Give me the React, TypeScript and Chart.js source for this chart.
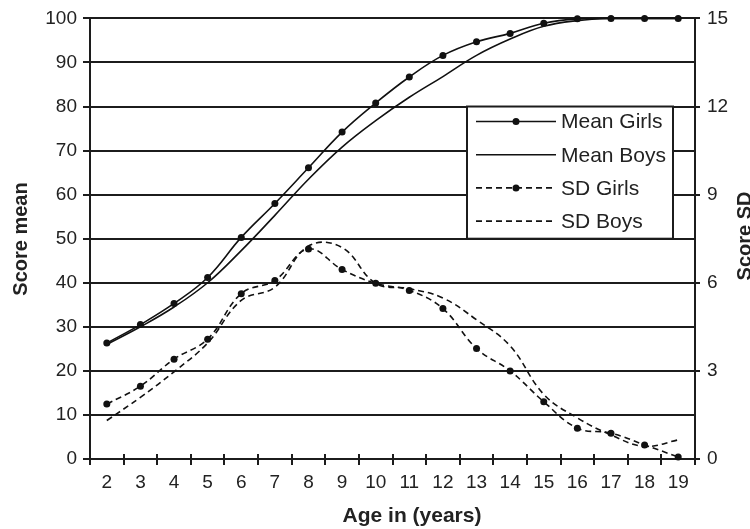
import React, { useEffect, useRef } from "react";
import { Chart, registerables } from "chart.js";

Chart.register(...registerables);

const AGES = ["2", "3", "4", "5", "6", "7", "8", "9", "10", "11", "12", "13", "14", "15", "16", "17", "18", "19"];
const MEAN_GIRLS = [26.3, 30.5, 35.3, 41.2, 50.3, 58.0, 66.1, 74.2, 80.8, 86.7, 91.6, 94.7, 96.6, 98.9, 99.9, 100, 100, 100];
const MEAN_BOYS = [26.0, 30.0, 34.5, 40.0, 47.3, 55.3, 63.5, 70.8, 76.8, 82.1, 86.8, 91.6, 95.3, 98.2, 99.5, 100, 100, 100];
const SD_GIRLS = [1.87, 2.48, 3.4, 4.08, 5.63, 6.08, 7.15, 6.45, 5.98, 5.74, 5.12, 3.76, 3.0, 1.95, 1.05, 0.88, 0.48, 0.07];
const SD_BOYS = [1.31, 2.1, 2.97, 3.95, 5.4, 5.85, 7.25, 7.2, 5.98, 5.8, 5.48, 4.74, 3.85, 2.2, 1.4, 0.82, 0.43, 0.65];
const MEAN_TICKS = { min: 0, max: 100, step: 10 };
const SD_TICKS = { min: 0, max: 15, step: 3 };
const LABELS = {
  meanGirls: "Mean Girls",
  meanBoys: "Mean Boys",
  sdGirls: "SD Girls",
  sdBoys: "SD Boys",
  x: "Age in (years)",
  y: "Score mean",
  y1: "Score SD",
};

const FONT = "'Liberation Sans', Arial, Helvetica, sans-serif";
const AXIS = "#1c1c1c";
const LINE = "#111111";
const TEXT = "#222222";
const DASH = [6, 4];

const overlay = {
  id: "overlay",
  afterDraw(chart: any) {
    const { ctx, chartArea, scales } = chart;
    const x = scales.x;
    const y = scales.y;
    ctx.save();

    // cross part of x ticks (above the axis)
    ctx.strokeStyle = AXIS;
    ctx.lineWidth = 2;
    for (let i = 1; i < AGES.length; i++) {
      const px = Math.round((x.getPixelForTick(i - 1) + x.getPixelForTick(i)) / 2);
      ctx.beginPath();
      ctx.moveTo(px, chartArea.bottom - 5);
      ctx.lineTo(px, chartArea.bottom);
      ctx.stroke();
    }

    // axis titles
    ctx.fillStyle = TEXT;
    ctx.textBaseline = "alphabetic";
    ctx.textAlign = "center";
    ctx.font = `bold 21px ${FONT}`;
    ctx.fillText(LABELS.x, 412, 522);

    ctx.font = `bold 20px ${FONT}`;
    ctx.save();
    ctx.translate(26.5, 239);
    ctx.rotate(-Math.PI / 2);
    ctx.fillText(LABELS.y, 0, 0);
    ctx.restore();

    ctx.save();
    ctx.translate(751, 236);
    ctx.rotate(-Math.PI / 2);
    ctx.fillText(LABELS.y1, 0, 0);
    ctx.restore();

    // legend box
    const top = y.getPixelForValue(80);
    const bottom = y.getPixelForValue(50);
    const right = chartArea.right - 22;
    const left = right - 206;
    ctx.fillStyle = "#ffffff";
    ctx.fillRect(left, top, right - left, bottom - top);
    ctx.strokeStyle = AXIS;
    ctx.lineWidth = 2;
    ctx.strokeRect(left, top, right - left, bottom - top);

    chart.data.datasets.forEach((ds: any, i: number) => {
      const ry = top + 15 + i * 33.2;
      ctx.save();
      ctx.strokeStyle = LINE;
      ctx.lineWidth = 1.6;
      ctx.setLineDash(ds.borderDash || []);
      ctx.beginPath();
      ctx.moveTo(left + 9, ry);
      ctx.lineTo(left + 89, ry);
      ctx.stroke();
      ctx.restore();
      if (ds.pointRadius > 0) {
        ctx.fillStyle = LINE;
        ctx.beginPath();
        ctx.arc(left + 49, ry, ds.pointRadius, 0, Math.PI * 2);
        ctx.fill();
      }
      ctx.fillStyle = TEXT;
      ctx.font = `21px ${FONT}`;
      ctx.textAlign = "left";
      ctx.textBaseline = "middle";
      ctx.fillText(ds.label, left + 94, ry + 1);
    });

    ctx.restore();
  },
};

export default function App() {
  const ref = useRef<HTMLCanvasElement | null>(null);

  useEffect(() => {
    if (!ref.current) return;
    const tickFont = { family: FONT, size: 19 };
    const common = {
      borderColor: LINE,
      backgroundColor: LINE,
      pointBackgroundColor: LINE,
      pointBorderWidth: 0,
      borderWidth: 1.6,
      tension: 0.4,
      fill: false,
      clip: 8,
    };
    const chart = new Chart(ref.current, {
      type: "line",
      data: {
        labels: AGES,
        datasets: [
          { ...common, label: LABELS.meanGirls, data: MEAN_GIRLS, yAxisID: "y", pointRadius: 3.5 },
          { ...common, label: LABELS.meanBoys, data: MEAN_BOYS, yAxisID: "y", pointRadius: 0 },
          { ...common, label: LABELS.sdGirls, data: SD_GIRLS, yAxisID: "y1", pointRadius: 3.5, borderDash: DASH },
          { ...common, label: LABELS.sdBoys, data: SD_BOYS, yAxisID: "y1", pointRadius: 0, borderDash: DASH },
        ],
      } as any,
      options: {
        responsive: false,
        animation: false,
        devicePixelRatio: 1,
        layout: { padding: { top: 17, left: 0, right: 0, bottom: 0 } },
        plugins: { legend: { display: false }, tooltip: { enabled: false } },
        elements: { point: { hoverRadius: 3.5 } },
        scales: {
          x: {
            type: "category",
            offset: true,
            grid: { offset: true, drawOnChartArea: false, tickLength: 6, color: AXIS, lineWidth: 2 },
            border: { display: true, color: AXIS, width: 2 },
            ticks: { font: tickFont, color: TEXT, padding: 6, maxRotation: 0, autoSkip: false },
            afterFit: (s: any) => {
              s.height = 70;
            },
          },
          y: {
            position: "left",
            min: MEAN_TICKS.min,
            max: MEAN_TICKS.max,
            ticks: { stepSize: MEAN_TICKS.step, font: tickFont, color: TEXT, padding: 6 },
            grid: { color: AXIS, lineWidth: 2, tickLength: 7 },
            border: { display: true, color: AXIS, width: 2 },
            afterFit: (s: any) => {
              s.width = 90;
            },
          },
          y1: {
            position: "right",
            min: SD_TICKS.min,
            max: SD_TICKS.max,
            ticks: { stepSize: SD_TICKS.step, font: tickFont, color: TEXT, padding: 7 },
            grid: { drawOnChartArea: false, color: AXIS, lineWidth: 2, tickLength: 5 },
            border: { display: true, color: AXIS, width: 2 },
            afterFit: (s: any) => {
              s.width = 55;
            },
          },
        },
      } as any,
      plugins: [overlay],
    });
    return () => chart.destroy();
  }, []);

  return (
    <div style={{ position: "absolute", left: 0, top: 0, width: 750, height: 529, overflow: "hidden", background: "#fff" }}>
      <canvas ref={ref} width={750} height={529} style={{ display: "block" }} />
    </div>
  );
}
